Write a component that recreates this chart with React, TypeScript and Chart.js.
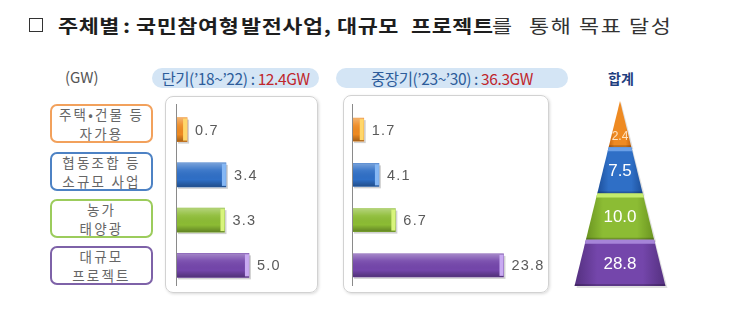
import React, { useEffect, useRef } from 'react';
import { Chart, registerables } from 'chart.js';

Chart.register(...registerables);

// ---------- data ----------
const titleWords = ['주체별', ':', '국민참여형', '발전사업,', '대규모', '프로젝트', '를', '통해', '목표', '달성'];
const unitLabel = '(GW)';
const periodNames = ['단기(’18~’22)\u00a0:\u00a0', '중장기(’23~’30)\u00a0:\u00a0'];
const periodTotals = ['12.4GW', '36.3GW'];
const totalHeader = '합계';
const categoryLines = [
  ['주택•건물 등', '자가용'],
  ['협동조합 등', '소규모 사업'],
  ['농가', '태양광'],
  ['대규모', '프로젝트'],
];
const categoryKeys = ['자가용', '소규모 사업', '농가 태양광', '대규모 프로젝트'];
const shortTermValues = [0.7, 3.4, 3.3, 5.0];
const midTermValues = [1.7, 4.1, 6.7, 23.8];
const totalValues = [2.4, 7.5, 10.0, 28.8];

// ---------- layout / styles ----------
const titleWordX = [58, 123, 136, 241, 337, 411, 492, 529, 579, 629];
const titleBoldCount = 6;
const palette = [
  { base: '#ee8a22', light: '#ffb85a', dark: '#c8640c', cap: '#ffd76a', border: '#f2a15c' },
  { base: '#2f6fc6', light: '#6a9fe6', dark: '#1d4f9a', cap: '#86b8f5', border: '#4d82c4' },
  { base: '#8cbc34', light: '#c4ec6c', dark: '#6a9420', cap: '#d8f47c', border: '#9ccc5c' },
  { base: '#7446ab', light: '#a684d8', dark: '#54307f', cap: '#c9aaf2', border: '#7e62a8' },
];
const KR = '"Noto Sans CJK KR", "Noto Sans", sans-serif';

const barDecor = {
  id: 'barDecor',
  beforeDatasetsDraw(chart: any) {
    const ctx = chart.ctx;
    const area = chart.chartArea;
    const x0 = chart.scales.x.getPixelForValue(0);
    ctx.save();
    ctx.strokeStyle = '#8a8a8a';
    ctx.lineWidth = 1;
    ctx.beginPath();
    ctx.moveTo(x0 - 0.5, area.top - 3);
    ctx.lineTo(x0 - 0.5, area.bottom - 2);
    ctx.stroke();
    const meta = chart.getDatasetMeta(0);
    meta.data.forEach((bar: any) => {
      const p = bar.getProps(['x', 'y', 'base', 'height'], true);
      ctx.fillStyle = 'rgba(0,0,0,0.18)';
      ctx.fillRect(p.base + 1, p.y - p.height / 2 + 2, p.x - p.base + 1, p.height);
    });
    ctx.restore();
  },
  afterDatasetsDraw(chart: any) {
    const ctx = chart.ctx;
    const meta = chart.getDatasetMeta(0);
    const values = chart.data.datasets[0].data;
    ctx.save();
    meta.data.forEach((bar: any, i: number) => {
      const p = bar.getProps(['x', 'y', 'base', 'height'], true);
      const top = p.y - p.height / 2;
      const w = p.x - p.base;
      const g = ctx.createLinearGradient(0, top, 0, top + p.height);
      g.addColorStop(0, 'rgba(255,255,255,0.35)');
      g.addColorStop(0.3, 'rgba(255,255,255,0.08)');
      g.addColorStop(0.7, 'rgba(0,0,0,0)');
      g.addColorStop(1, 'rgba(0,0,0,0.3)');
      ctx.fillStyle = g;
      ctx.fillRect(p.base, top, w, p.height);
      ctx.fillStyle = palette[i].cap;
      ctx.fillRect(p.x - 4, top + 1, 4, p.height - 2);
      ctx.fillStyle = '#5a5a5a';
      ctx.font = '14.5px "Liberation Sans", Arial, sans-serif';
      (ctx as any).letterSpacing = '1.2px';
      ctx.textBaseline = 'middle';
      ctx.textAlign = 'left';
      ctx.fillText(Number(values[i]).toFixed(1), p.x + 8, p.y + 1);
    });
    ctx.restore();
  },
};

const pyramidDecor = {
  id: 'pyramidDecor',
  afterDatasetsDraw(chart: any) {
    const ctx = chart.ctx;
    const area = chart.chartArea;
    const cx = (area.left + area.right) / 2;
    const H = area.bottom - area.top;
    const halfBase = 45.5;
    const hw = (y: number) => (halfBase * (y - area.top)) / H;
    const meta = chart.getDatasetMeta(0);
    const values = chart.data.datasets[0].data;
    ctx.save();
    meta.data.forEach((el: any, i: number) => {
      const p = el.getProps(['y', 'height'], true);
      const top = p.y - p.height / 2;
      const bot = p.y + p.height / 2;
      const c = palette[i];
      const trap = (t: number, b: number) => {
        ctx.beginPath();
        ctx.moveTo(cx - hw(t), t);
        ctx.lineTo(cx + hw(t), t);
        ctx.lineTo(cx + hw(b), b);
        ctx.lineTo(cx - hw(b), b);
        ctx.closePath();
      };
      ctx.fillStyle = 'rgba(0,0,0,0.12)';
      ctx.beginPath();
      ctx.moveTo(cx + hw(top) + 1, top + 1);
      ctx.lineTo(cx + hw(bot) + 2, bot + 2);
      ctx.lineTo(cx - hw(bot) + 2, bot + 2);
      ctx.lineTo(cx - hw(top) + 1, top + 1);
      ctx.closePath();
      ctx.fill();
      const g = ctx.createLinearGradient(cx - hw(bot), 0, cx + hw(bot), 0);
      g.addColorStop(0, c.dark);
      g.addColorStop(0.25, c.base);
      g.addColorStop(0.75, c.base);
      g.addColorStop(1, c.dark);
      trap(top, bot);
      ctx.fillStyle = g;
      ctx.fill();
      if (i > 0) {
        trap(top, top + 4);
        ctx.fillStyle = c.light;
        ctx.fill();
      }
      trap(bot - 2, bot);
      ctx.fillStyle = 'rgba(0,0,0,0.2)';
      ctx.fill();
      const small = i === 0;
      ctx.fillStyle = small ? '#ffe3c2' : '#ffffff';
      ctx.font = small ? '12px "Liberation Sans", Arial, sans-serif' : '17px "Liberation Sans", Arial, sans-serif';
      ctx.textAlign = 'center';
      ctx.textBaseline = 'middle';
      ctx.fillText(Number(values[i]).toFixed(1), cx, small ? p.y + 13 : p.y + 1);
    });
    ctx.restore();
  },
};

function BarPanel(props: { values: number[]; max: number; left: number; top: number; width: number; height: number; padLeft: number; thickness: number }) {
  const ref = useRef<HTMLCanvasElement>(null);
  useEffect(() => {
    const chart = new Chart(ref.current!, {
      type: 'bar',
      data: {
        labels: categoryKeys,
        datasets: [
          {
            data: props.values,
            backgroundColor: palette.map((c) => c.base),
            barThickness: props.thickness,
            borderWidth: 0,
          },
        ],
      },
      options: {
        indexAxis: 'y',
        animation: false,
        responsive: false,
        maintainAspectRatio: false,
        layout: { padding: { left: props.padLeft, right: 0, top: 10, bottom: 5 } },
        scales: {
          x: { display: false, min: 0, max: props.max },
          y: { display: false },
        },
        plugins: { legend: { display: false }, tooltip: { enabled: false } },
      },
      plugins: [barDecor],
    });
    return () => chart.destroy();
  }, []);
  return (
    <canvas
      ref={ref}
      width={props.width}
      height={props.height}
      style={{ position: 'absolute', left: props.left, top: props.top, width: props.width, height: props.height }}
    />
  );
}

function Pyramid() {
  const ref = useRef<HTMLCanvasElement>(null);
  useEffect(() => {
    const chart = new Chart(ref.current!, {
      type: 'bar',
      data: {
        labels: categoryKeys,
        datasets: [
          {
            data: totalValues,
            backgroundColor: 'rgba(0,0,0,0)',
            barPercentage: 1,
            categoryPercentage: 1,
          },
        ],
      },
      options: {
        indexAxis: 'y',
        animation: false,
        responsive: false,
        maintainAspectRatio: false,
        layout: { padding: { left: 0, right: 0, top: 6, bottom: 4 } },
        scales: {
          x: { display: false, min: 0, max: 30 },
          y: { display: false },
        },
        plugins: { legend: { display: false }, tooltip: { enabled: false } },
      },
      plugins: [pyramidDecor],
    });
    return () => chart.destroy();
  }, []);
  return <canvas ref={ref} width={100} height={195} style={{ position: 'absolute', left: 570, top: 95, width: 100, height: 195 }} />;
}

const boxTops = [104, 152, 199, 246];

export default function App() {
  return (
    <div style={{ position: 'absolute', left: 0, top: 0, width: 730, height: 315, background: '#fff', fontFamily: KR, overflow: 'hidden' }}>
      {/* title */}
      <div style={{ position: 'absolute', left: 29, top: 18, width: 12, height: 12, border: '1.5px solid #333' }} />
      {titleWords.map((w, i) => {
        const bold = i < titleBoldCount;
        return (
          <span
            key={i}
            style={{
              position: 'absolute',
              left: titleWordX[i],
              top: 14,
              fontSize: 18.5,
              lineHeight: '22px',
              whiteSpace: 'nowrap',
              fontWeight: bold ? 700 : 400,
              color: bold ? '#1e1e1e' : '#333',
              letterSpacing: bold ? 0.5 : 1.5,
              transform: 'scaleX(1.18)',
              transformOrigin: 'left center',
            }}
          >
            {w}
          </span>
        );
      })}
      {/* headers */}
      <div style={{ position: 'absolute', left: 65, top: 67, fontSize: 15, lineHeight: '20px', color: '#555' }}>{unitLabel}</div>
      {[0, 1].map((k) => (
        <div
          key={k}
          style={{
            position: 'absolute',
            left: k === 0 ? 152 : 336,
            top: 68,
            width: k === 0 ? 167 : 232,
            height: 20,
            borderRadius: 10,
            background: '#d4e5f5',
            display: 'flex',
            alignItems: 'center',
            justifyContent: 'center',
            fontSize: 15.5,
            color: '#2d5c9a',
            whiteSpace: 'nowrap',
            letterSpacing: -0.4,
          }}
        >
          <span>{periodNames[k]}</span>
          <span style={{ color: '#c0262c' }}>{periodTotals[k]}</span>
        </div>
      ))}
      <div style={{ position: 'absolute', left: 608, top: 68, fontSize: 14, lineHeight: '20px', fontWeight: 700, color: '#1f3f7f' }}>{totalHeader}</div>
      {/* category boxes */}
      {categoryLines.map((lines, i) => (
        <div
          key={i}
          style={{
            position: 'absolute',
            left: 50,
            top: boxTops[i],
            width: 99,
            height: 35,
            border: `2px solid ${palette[i].border}`,
            borderRadius: 7,
            display: 'flex',
            flexDirection: 'column',
            alignItems: 'center',
            justifyContent: 'center',
            fontSize: 13.5,
            lineHeight: '19px',
            color: '#666',
            letterSpacing: 2.2,
          }}
        >
          {lines.map((l, j) => (
            <div key={j}>{l}</div>
          ))}
        </div>
      ))}
      {/* panels */}
      <div style={{ position: 'absolute', left: 165, top: 96, width: 151, height: 195, border: '1px solid #d2d2d2', borderRadius: 8, boxShadow: '1px 1px 3px rgba(0,0,0,0.15)' }} />
      <div style={{ position: 'absolute', left: 343, top: 95, width: 204, height: 196, border: '1px solid #d2d2d2', borderRadius: 8, boxShadow: '1px 1px 3px rgba(0,0,0,0.15)' }} />
      <BarPanel values={shortTermValues} max={9.8} left={166} top={97} width={152} height={196} padLeft={11} thickness={24} />
      <BarPanel values={midTermValues} max={31} left={344} top={97} width={205} height={196} padLeft={9} thickness={23} />
      <Pyramid />
    </div>
  );
}
